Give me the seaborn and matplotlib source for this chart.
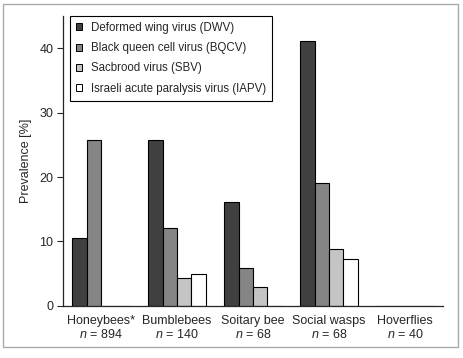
import matplotlib
matplotlib.use("Agg")
import matplotlib.pyplot as plt
import seaborn as sns
import pandas as pd
from matplotlib.patches import Rectangle

groups = ["Honeybees*", "Bumblebees", "Soitary bee", "Social wasps", "Hoverflies"]
sample_n = [894, 140, 68, 68, 40]
viruses = [
    "Deformed wing virus (DWV)",
    "Black queen cell virus (BQCV)",
    "Sacbrood virus (SBV)",
    "Israeli acute paralysis virus (IAPV)",
]
dwv = [10.5, 25.7, 16.1, 41.2, 0]
bqcv = [25.7, 12.1, 5.9, 19.1, 0]
sbv = [0, 4.3, 2.9, 8.8, 0]
iapv = [0, 5.0, 0, 7.3, 0]
colors = ["#404040", "#858585", "#c4c4c4", "#ffffff"]

rows = []
for virus, vals in zip(viruses, [dwv, bqcv, sbv, iapv]):
    for g, v in zip(groups, vals):
        rows.append({"group": g, "virus": virus, "prevalence": v})
df = pd.DataFrame(rows)

sns.set_style("ticks")
plt.rcParams["font.family"] = ["Liberation Sans", "DejaVu Sans"]
plt.rcParams["mathtext.fontset"] = "custom"
plt.rcParams["mathtext.it"] = "Liberation Sans:italic"
plt.rcParams["mathtext.rm"] = "Liberation Sans"

fig = plt.figure(figsize=(4.63, 3.58), dpi=100)
ax = fig.add_axes([0.136, 0.146, 0.821, 0.809])

sns.barplot(data=df, x="group", y="prevalence", hue="virus",
            palette=colors, edgecolor="black", linewidth=0.8,
            width=0.76, ax=ax, legend=False)

ax.set_xlim(-0.5, 4.5)
ax.set_ylim(0, 45)
ax.set_yticks([0, 10, 20, 30, 40])
ax.set_xticks(range(len(groups)))
ax.set_xticklabels([f"{g}\n$n$ = {n}" for g, n in zip(groups, sample_n)],
                   fontsize=9, linespacing=1.05)
ax.tick_params(axis="x", length=0, pad=7)
ax.tick_params(axis="y", labelsize=9, length=4, width=0.8, pad=3)
ax.set_xlabel("")
ax.set_ylabel("Prevalence [%]", fontsize=9, labelpad=5)
sns.despine(ax=ax)
for s in ["left", "bottom"]:
    ax.spines[s].set_linewidth(0.9)

handles = [Rectangle((0, 0), 1, 1, facecolor=c, edgecolor="black", linewidth=0.7)
           for c in colors]
leg = ax.legend(handles, viruses, loc="upper left", bbox_to_anchor=(0.018, 1.0),
                borderaxespad=0, fontsize=8.3, frameon=True, fancybox=False,
                framealpha=1, edgecolor="black", handlelength=0.55,
                handleheight=0.55, handletextpad=0.8, labelspacing=0.72,
                borderpad=0.5)
leg.get_frame().set_linewidth(0.8)

fig.patches.append(Rectangle((0.006, 0.03), 0.984, 0.96, transform=fig.transFigure,
                             fill=False, edgecolor="#aaaaaa", linewidth=1))

fig.savefig("out.png", dpi=100)
plt.close(fig)
